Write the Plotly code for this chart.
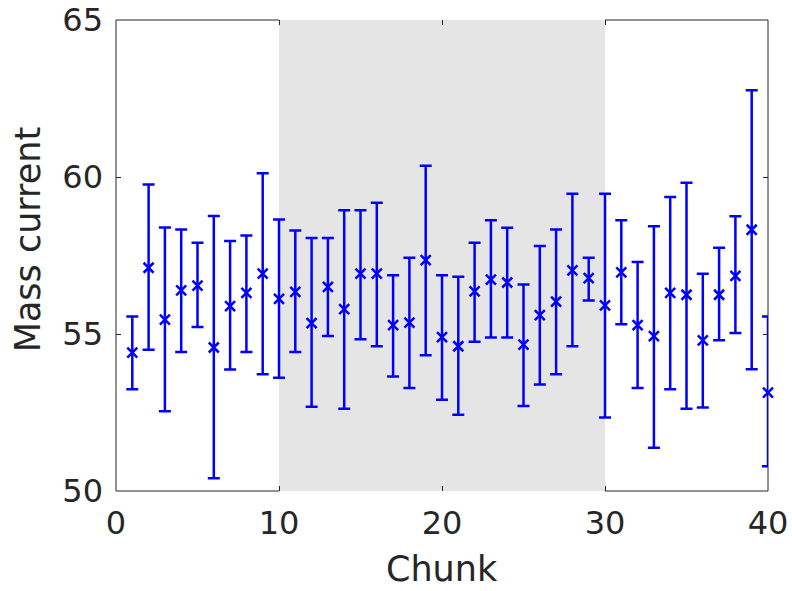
import plotly.graph_objects as go

chunks = list(range(1, 41))
mass_current = [54.41, 57.11, 55.46, 56.39, 56.54, 54.57, 55.89, 56.31, 56.92, 56.12,
                56.34, 55.35, 56.50, 55.79, 56.92, 56.92, 55.28, 55.36, 57.35, 54.90,
                54.61, 56.36, 56.73, 56.64, 54.66, 55.60, 56.03, 57.03, 56.78, 55.91,
                56.96, 55.28, 54.93, 56.31, 56.25, 54.80, 56.25, 56.85, 58.32, 53.13]
err_upper = [55.56, 59.76, 58.39, 58.33, 57.91, 58.76, 57.96, 58.14, 60.12, 58.65,
             58.30, 58.06, 58.06, 58.94, 58.94, 59.18, 56.87, 57.43, 60.36, 56.87,
             56.82, 57.91, 58.62, 58.38, 56.58, 57.80, 58.33, 59.47, 57.43, 59.47,
             58.62, 57.29, 58.43, 59.36, 59.82, 56.92, 57.75, 58.75, 62.76, 55.56]
err_lower = [53.24, 54.50, 52.54, 54.43, 55.22, 50.41, 53.87, 54.43, 53.72, 53.61,
             54.43, 52.68, 54.94, 52.62, 54.83, 54.61, 53.65, 53.28, 54.32, 52.91,
             52.43, 54.75, 54.89, 54.89, 52.71, 53.39, 53.72, 54.61, 56.07, 52.34,
             55.31, 53.28, 51.38, 53.24, 52.62, 52.66, 54.80, 55.03, 53.88, 50.79]
shade_range = [10, 30]
x_range = [0, 40]
y_range = [50, 65]
x_ticks = [0, 10, 20, 30, 40]
y_ticks = [50, 55, 60, 65]

plus = [u - m for u, m in zip(err_upper, mass_current)]
minus = [m - l for m, l in zip(mass_current, err_lower)]

AX = "#262626"
BLUE = "#0000FF"
FONT = "DejaVu Sans"

fig = go.Figure()
fig.add_trace(go.Scatter(
    x=chunks, y=mass_current, mode="markers",
    marker=dict(symbol="x-thin", size=10, color=BLUE, line=dict(width=2.5, color=BLUE)),
    error_y=dict(type="data", symmetric=False, array=plus, arrayminus=minus,
                 color=BLUE, thickness=2.5, width=6),
    showlegend=False, cliponaxis=False,
))

shapes = [
    dict(type="rect", xref="x", yref="paper", x0=shade_range[0], x1=shade_range[1],
         y0=0, y1=1, fillcolor="#E5E5E5", line=dict(width=0), layer="below"),
    dict(type="line", xref="paper", yref="paper", x0=0, x1=0, y0=0, y1=1,
         line=dict(color=AX, width=1), layer="below"),
    dict(type="line", xref="paper", yref="paper", x0=1, x1=1, y0=0, y1=1,
         line=dict(color=AX, width=1), layer="below"),
]
for yy in (0, 1):
    shapes.append(dict(type="line", xref="x", yref="paper", x0=x_range[0], x1=shade_range[0],
                       y0=yy, y1=yy, line=dict(color=AX, width=1), layer="below"))
    shapes.append(dict(type="line", xref="x", yref="paper", x0=shade_range[1], x1=x_range[1],
                       y0=yy, y1=yy, line=dict(color=AX, width=1), layer="below"))

fig.update_layout(
    width=792, height=591,
    margin=dict(l=116, r=24, t=20, b=100),
    paper_bgcolor="white", plot_bgcolor="white",
    shapes=shapes,
    font=dict(family=FONT, color=AX),
    xaxis=dict(range=x_range, tickvals=x_ticks, ticks="inside", ticklen=5, tickwidth=1,
               tickcolor=AX, mirror="ticks", showline=False, showgrid=False, zeroline=False,
               automargin=False, ticklabelstandoff=10,
               tickfont=dict(family=FONT, size=32, color=AX)),
    yaxis=dict(range=y_range, tickvals=y_ticks, ticks="inside", ticklen=5, tickwidth=1,
               tickcolor=AX, mirror="ticks", showline=False, showgrid=False, zeroline=False,
               automargin=False, ticklabelstandoff=12,
               tickfont=dict(family=FONT, size=32, color=AX)),
    annotations=[
        dict(text="Chunk", xref="paper", yref="paper", x=0.5, y=-0.166,
             xanchor="center", yanchor="middle", showarrow=False,
             font=dict(family=FONT, size=35, color=AX)),
        dict(text="Mass current", xref="paper", yref="paper", x=-0.1345, y=0.535,
             xanchor="center", yanchor="middle", textangle=-90, showarrow=False,
             font=dict(family=FONT, size=35, color=AX)),
    ],
)

fig.write_html("out.html")
